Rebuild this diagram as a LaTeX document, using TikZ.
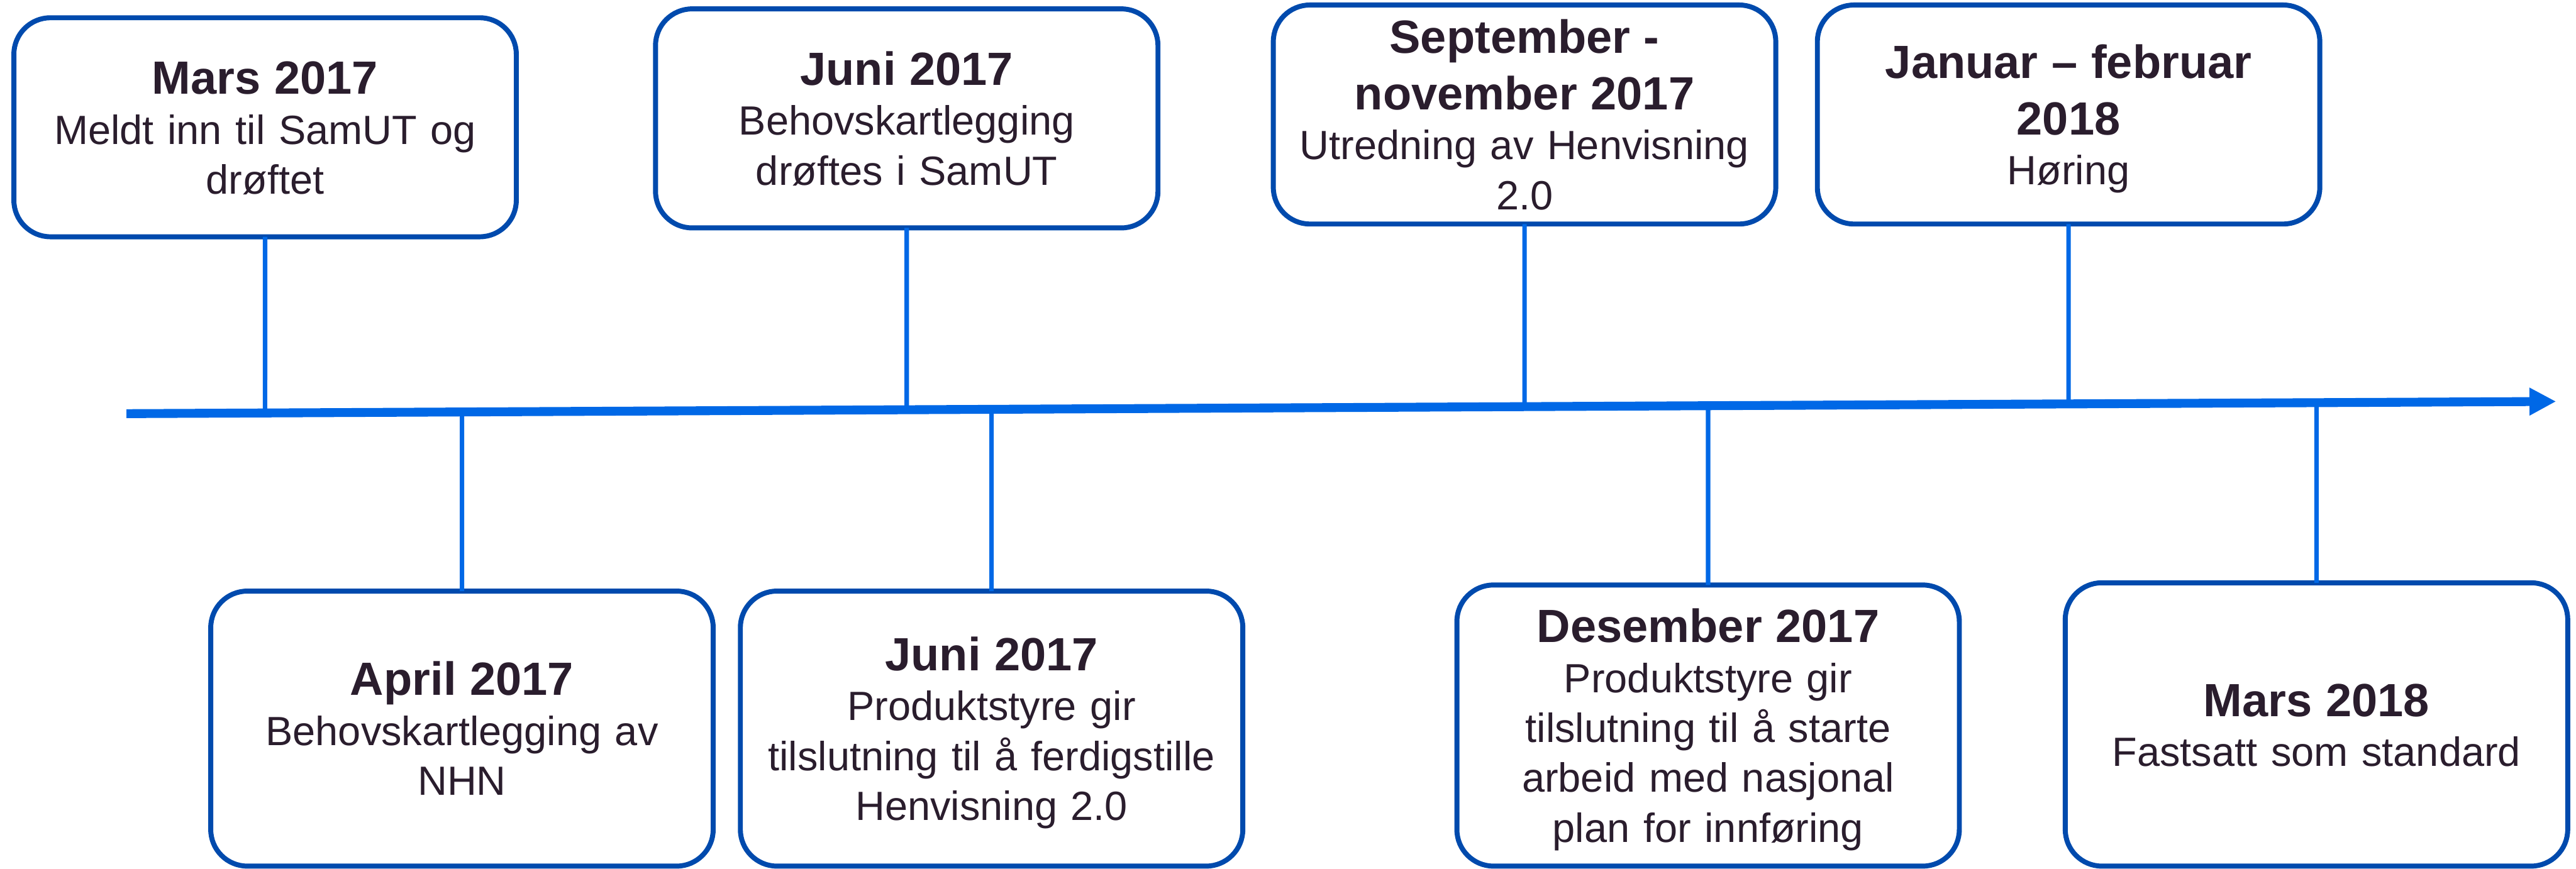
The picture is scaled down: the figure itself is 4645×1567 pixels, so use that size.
\documentclass[tikz,border=0pt]{standalone}
\usepackage{fontspec}
\setmainfont{Liberation Sans}
\usetikzlibrary{arrows.meta,calc}
\definecolor{boxblue}{RGB}{0,74,173}
\definecolor{lineblue}{RGB}{0,104,230}
\definecolor{textdark}{RGB}{42,29,45}
\newcommand{\evhd}[1]{{\fontsize{21}{25.5}\bfseries\selectfont\rule{0pt}{19pt}#1}}
\newcommand{\evend}{\rule[-3.9pt]{0pt}{3.9pt}}
\tikzset{
  evbox/.style={draw=boxblue, line width=2.25pt, fill=white, rounded corners=16.5pt,
    minimum width=226.5pt, inner sep=0pt, outer sep=0pt, text width=215pt, align=center,
    text=textdark, font=\fontsize{18.4}{22.5}\selectfont},
  topbox/.style={evbox, minimum height=98.75pt},
  tickline/.style={draw=lineblue, line width=2pt},
  axisline/.style={draw=lineblue, line width=4pt, -{Triangle[length=12pt,width=11.75pt]}}
}
\begin{document}
\begin{tikzpicture}[x=0.25pt,y=-0.25pt]
\useasboundingbox (0,0) rectangle (4645,1567);
\fill[white] (0,0) rectangle (4645,1567);
% axis
\coordinate (axL) at (228,746);
\coordinate (axR) at (4609,724);
% boxes
\node[topbox] (n1) at (478,229.5) {\evhd{Mars 2017}\\ Meldt inn til SamUT og\\ drøftet\evend};
\node[topbox] (n2) at (1635,213.5) {\evhd{Juni 2017}\\ Behovskartlegging\\ drøftes i SamUT\evend};
\node[topbox] (n3) at (2749,206.5) {\evhd{September -\\[3pt] november 2017}\\ Utredning av Henvisning\\ 2.0\evend};
\node[topbox] (n4) at (3730,206.5) {\evhd{Januar – februar\\[3pt] 2018}\\ Høring\evend};
\node[evbox, minimum height=124pt] (n5) at (833,1314) {\evhd{April 2017}\\ Behovskartlegging av\\ NHN\evend};
\node[evbox, minimum height=124pt] (n6) at (1788,1314) {\evhd{Juni 2017}\\ Produktstyre gir\\ tilslutning til å ferdigstille\\ Henvisning 2.0\evend};
\node[evbox, minimum height=126.75pt] (n7) at (3080,1308.5) {\evhd{Desember 2017}\\ Produktstyre gir\\ tilslutning til å starte\\ arbeid med nasjonal\\ plan for innføring\evend};
\node[evbox, minimum height=127.75pt] (n8) at (4177,1306.5) {\evhd{Mars 2018}\\ Fastsatt som standard\evend};
% tick points on the axis
\coordinate (t1) at ($(axL)!{(478-228)/4381}!(axR)$);
\coordinate (t2) at ($(axL)!{(1635-228)/4381}!(axR)$);
\coordinate (t3) at ($(axL)!{(2749-228)/4381}!(axR)$);
\coordinate (t4) at ($(axL)!{(3730-228)/4381}!(axR)$);
\coordinate (t5) at ($(axL)!{(833-228)/4381}!(axR)$);
\coordinate (t6) at ($(axL)!{(1788-228)/4381}!(axR)$);
\coordinate (t7) at ($(axL)!{(3080-228)/4381}!(axR)$);
\coordinate (t8) at ($(axL)!{(4177-228)/4381}!(axR)$);
% connectors
\draw[tickline] (n1.south) -- (t1);
\draw[tickline] (n2.south) -- (t2);
\draw[tickline] (n3.south) -- (t3);
\draw[tickline] (n4.south) -- (t4);
\draw[tickline] (t5) -- (n5.north);
\draw[tickline] (t6) -- (n6.north);
\draw[tickline] (t7) -- (n7.north);
\draw[tickline] (t8) -- (n8.north);
\draw[axisline] (axL) -- (axR);
\end{tikzpicture}
\end{document}
